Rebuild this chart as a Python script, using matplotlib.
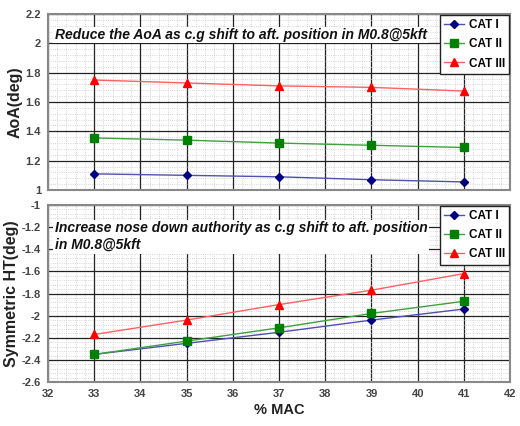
import numpy as np
import matplotlib.pyplot as plt
from matplotlib.ticker import MultipleLocator

plt.rcParams['font.family'] = ['Liberation Sans', 'DejaVu Sans']

mac = [33, 35, 37, 39, 41]
labels = ["CAT I", "CAT II", "CAT III"]

aoa_cat1 = [1.11, 1.10, 1.09, 1.07, 1.055]
aoa_cat2 = [1.355, 1.34, 1.32, 1.305, 1.29]
aoa_cat3 = [1.75, 1.73, 1.71, 1.70, 1.675]

ht_cat1 = [-2.35, -2.25, -2.15, -2.04, -1.94]
ht_cat2 = [-2.35, -2.23, -2.11, -1.98, -1.87]
ht_cat3 = [-2.17, -2.04, -1.90, -1.77, -1.62]

colors = ["#000080", "#008000", "#ff0000"]
line_colors = ["#5050b0", "#40a040", "#ff6060"]
markers = ["D", "s", "^"]
msizes = [4, 6, 6]

fig = plt.figure(figsize=(5.2, 4.26), dpi=100)
ax1 = fig.add_axes([0.092, 0.554, 0.889, 0.413])
ax2 = fig.add_axes([0.092, 0.103, 0.889, 0.416])


def style(ax, ylo, yhi):
    ax.set_xlim(32, 42)
    ax.set_ylim(ylo, yhi)
    ax.xaxis.set_major_locator(MultipleLocator(1))
    ax.xaxis.set_minor_locator(MultipleLocator(0.2))
    ax.yaxis.set_major_locator(MultipleLocator(0.2))
    ax.yaxis.set_minor_locator(MultipleLocator(0.04))
    ax.grid(which="major", color="#222222", lw=0.9)
    ax.grid(which="minor", color="#c8c8c8", lw=0.6, ls=":")
    ax.set_axisbelow(True)
    ax.tick_params(which="both", length=0, labelsize=8, labelcolor="#444444", pad=5)
    for s in ax.spines.values():
        s.set_color("#888888")
        s.set_linewidth(1.5)


series_top = [aoa_cat1, aoa_cat2, aoa_cat3]
series_bot = [ht_cat1, ht_cat2, ht_cat3]

for i in range(3):
    ax1.plot(mac, series_top[i], color=line_colors[i], lw=1.0, marker=markers[i],
             ms=msizes[i], mfc=colors[i], mec=colors[i], label=labels[i])
    ax2.plot(mac, series_bot[i], color=line_colors[i], lw=1.0, marker=markers[i],
             ms=msizes[i], mfc=colors[i], mec=colors[i], label=labels[i])

style(ax1, 1.0, 2.2)
style(ax2, -2.6, -1.0)
ax1.set_xticklabels([])
ax1.set_yticks([1, 1.2, 1.4, 1.6, 1.8, 2, 2.2])
ax1.set_yticklabels(["1", "1.2", "1.4", "1.6", "1.8", "2", "2.2"], fontweight="bold")
ax2.set_yticks([-2.6, -2.4, -2.2, -2, -1.8, -1.6, -1.4, -1.2, -1])
ax2.set_yticklabels(["-2.6", "-2.4", "-2.2", "-2", "-1.8", "-1.6", "-1.4", "-1.2", "-1"],
                    fontweight="bold")
ax2.set_xticks(range(32, 43))
ax2.set_xticklabels([str(v) for v in range(32, 43)], fontweight="bold")

ax1.set_ylabel("AoA(deg)", fontsize=11.5, fontweight="bold", color="#222222", labelpad=2)
ax2.set_ylabel("Symmetric HT(deg)", fontsize=11.5, fontweight="bold", color="#222222", labelpad=2)
ax2.set_xlabel("% MAC", fontsize=10.5, fontweight="bold", color="#222222", labelpad=3)

bbox = dict(facecolor="white", edgecolor="none", pad=1)
ax1.text(32.15, 2.03, "Reduce the AoA as c.g shift to aft. position in M0.8@5kft",
         fontsize=10, fontstyle="italic", fontweight="bold", color="#111111", bbox=bbox)
ax2.text(32.15, -1.4, "Increase nose down authority as c.g shift to aft. position\nin M0.8@5kft",
         fontsize=10, fontstyle="italic", fontweight="bold", color="#111111", bbox=bbox,
         linespacing=1.3)

for ax in (ax1, ax2):
    leg = ax.legend(loc="upper right", fontsize=8.5, frameon=True, fancybox=False,
                    borderaxespad=0.1, handlelength=1.7, handletextpad=0.4,
                    labelspacing=0.6, borderpad=0.35, framealpha=1)
    leg.get_frame().set_edgecolor("#222222")
    leg.get_frame().set_linewidth(1.0)
    for t in leg.get_texts():
        t.set_fontweight("bold")

fig.savefig("out.png", dpi=100)
